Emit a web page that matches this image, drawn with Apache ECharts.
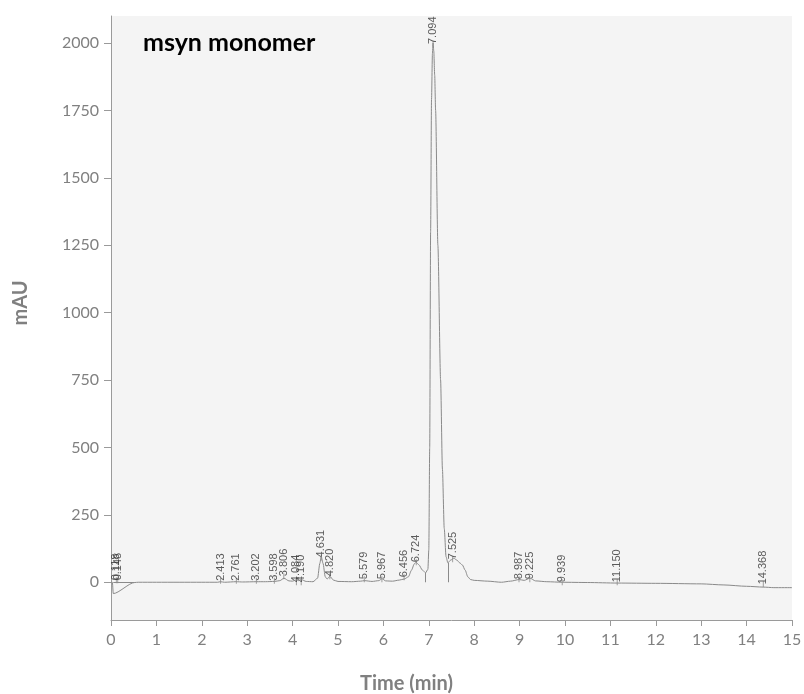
<!DOCTYPE html>
<html><head><meta charset="utf-8">
<script src="https://cdn.jsdelivr.net/npm/echarts@6/dist/echarts.min.js"></script>
<style>html,body{margin:0;padding:0;background:#fff}#chart{width:804px;height:694px}</style>
</head><body><div id="chart"></div>
<script>
const chartTitle = 'msyn monomer';
const xAxisTitle = 'Time (min)';
const yAxisTitle = 'mAU';
const yTickValues = [0, 250, 500, 750, 1000, 1250, 1500, 1750, 2000];

const traceTime = [0.00,0.03,0.05,0.52,0.60,1.00,1.50,2.00,2.35,2.41,2.50,2.76,2.90,3.20,3.40,3.60,3.72,3.81,3.92,4.00,4.08,4.13,4.19,4.30,4.45,4.55,4.60,4.63,4.67,4.72,4.76,4.82,4.90,5.00,5.30,5.50,5.58,5.75,5.90,5.97,6.05,6.20,6.35,6.46,6.55,6.62,6.68,6.72,6.78,6.86,6.93,6.98,7.00,7.02,7.04,7.06,7.08,7.094,7.11,7.13,7.15,7.20,7.26,7.30,7.34,7.38,7.42,7.48,7.55,7.62,7.68,7.74,7.80,7.86,7.92,8.00,8.30,8.60,8.80,8.99,9.10,9.23,9.35,9.60,9.94,10.50,11.15,12.00,13.00,13.50,14.00,14.37,14.60,15.00];
const traceSignal = [0,0,-42,-1,0,0,0,0,0,2,0,2,1,2,2,3,6,15,5,4,9,6,10,3,2,15,70,96,70,20,12,22,8,3,2,4,6,3,6,13,5,4,8,12,20,45,68,74,65,45,35,48,120,500,1300,1790,1960,2000,1970,1880,1750,1250,750,420,200,95,72,82,89,82,72,64,45,20,10,7,4,0,4,10,7,15,5,2,0,-1,-3,-4,-6,-10,-15,-18,-20,-20];

const peakTimes = [0.118,0.148,2.413,2.761,3.202,3.598,3.806,4.084,4.190,4.631,4.820,5.579,5.967,6.456,6.724,7.094,7.525,8.987,9.225,9.939,11.150,14.368];
const peakLabels = ['0.118','0.148','2.413','2.761','3.202','3.598','3.806','4.084','4.190','4.631','4.820','5.579','5.967','6.456','6.724','7.094','7.525','8.987','9.225','9.939','11.150','14.368'];
const peakLabelBase = [22,22,20,20,20,20,37,15,15,107,37,26,26,33,89,2011,100,26,26,15,15,7];

const dropTimes = [6.93, 7.42];
const dropTops = [35, 72];
const startSegment = [[0.05, 0], [0.52, 0]];

const chart = echarts.init(document.getElementById('chart'), null, {renderer: 'canvas'});
const traceData = traceTime.map((t, i) => [t, traceSignal[i]]);
const peakData = peakTimes.map((t, i) => ({value: [t, peakLabelBase[i]], label: {formatter: peakLabels[i]}}));
const markLines = dropTimes.map((t, i) => [{coord: [t, dropTops[i]]}, {coord: [t, 0]}]);
markLines.push([{coord: startSegment[0]}, {coord: startSegment[1]}]);

const gray = '#808080';
chart.setOption({
  animation: false,
  backgroundColor: '#ffffff',
  title: {
    text: chartTitle, left: 143, top: 30, padding: 0,
    textStyle: {fontFamily: 'Lato', fontWeight: 'bold', fontSize: 25, color: '#000'}
  },
  grid: {left: 111, right: 12, top: 16, bottom: 74, show: true, backgroundColor: '#f4f4f4', borderWidth: 0,
    containLabel: false, outerBoundsMode: 'none'},
  xAxis: {
    type: 'value', min: 0, max: 15, interval: 1,
    name: xAxisTitle, nameLocation: 'middle', nameGap: 54,
    nameTextStyle: {fontFamily: 'Lato', fontWeight: 'bold', fontSize: 20, color: gray, padding: [0, 90, 0, 0]},
    axisLine: {onZero: false, lineStyle: {color: '#9a9a9a', width: 1}},
    axisTick: {show: true, length: 6, inside: false, lineStyle: {color: '#9a9a9a'}},
    axisLabel: {fontFamily: 'Lato', fontSize: 16, color: gray, margin: 12, formatter: v => String(v)},
    splitLine: {show: false}
  },
  yAxis: {
    type: 'value', min: -140, max: 2100,
    name: yAxisTitle, nameLocation: 'middle', nameGap: 80, nameRotate: 90,
    nameTextStyle: {fontFamily: 'Lato', fontWeight: 'bold', fontSize: 20, color: gray, padding: [0, 0, 0, 30]},
    axisLine: {show: true, lineStyle: {color: '#9a9a9a', width: 1}},
    axisTick: {show: true, length: 7, customValues: yTickValues, lineStyle: {color: '#9a9a9a'}},
    axisLabel: {fontFamily: 'Lato', fontSize: 16, color: gray, margin: 12, customValues: yTickValues, formatter: v => String(v)},
    splitLine: {show: false}
  },
  series: [
    {
      type: 'line', data: traceData, showSymbol: false, symbol: 'none',
      smooth: 0.25, smoothMonotone: 'x',
      lineStyle: {color: '#8a8a8a', width: 1}, silent: true,
      markLine: {
        silent: true, symbol: ['none', 'none'], label: {show: false},
        lineStyle: {color: '#8a8a8a', width: 1, type: 'solid'},
        data: markLines
      }
    },
    {
      type: 'scatter', data: peakData, symbol: 'rect', symbolSize: [1, 6], symbolOffset: [0, 4],
      itemStyle: {color: '#8a8a8a'}, silent: true,
      label: {
        show: true, position: 'inside', rotate: 90, align: 'left', verticalAlign: 'middle',
        fontFamily: 'Liberation Sans', fontSize: 11, color: '#333'
      }
    }
  ]
});
</script></body></html>
